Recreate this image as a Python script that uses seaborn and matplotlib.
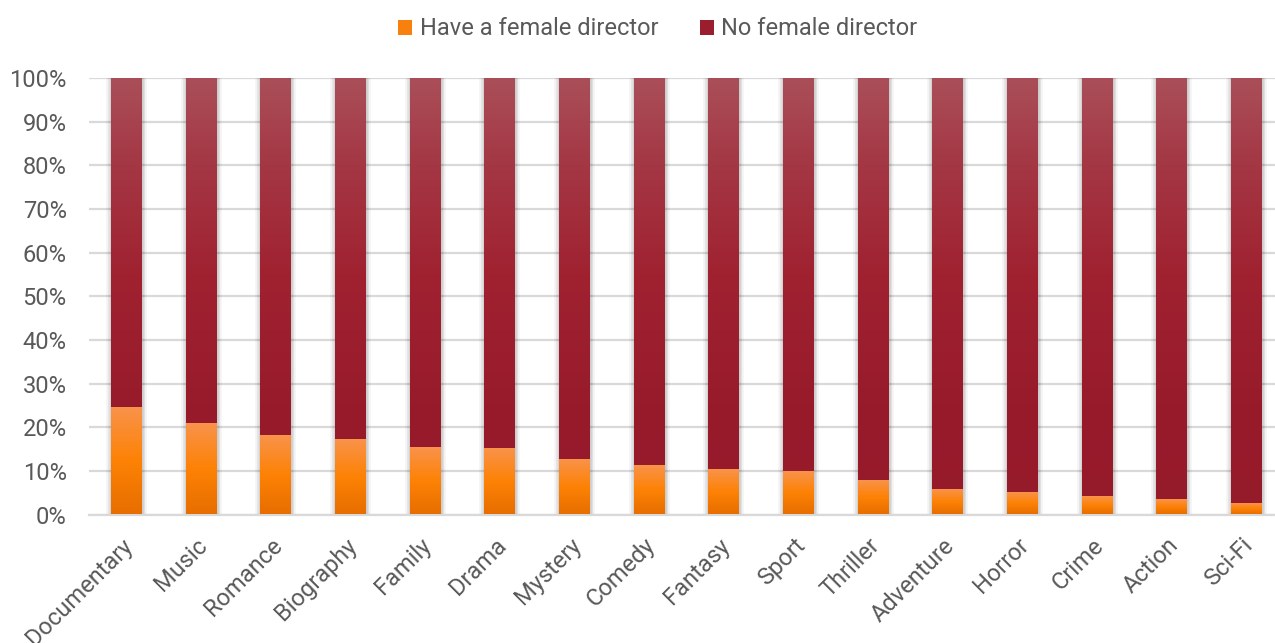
import numpy as np
import pandas as pd
import matplotlib
matplotlib.use("Agg")
import matplotlib.pyplot as plt
import matplotlib.patheffects as pe
import matplotlib.transforms as mtransforms
from matplotlib.colors import LinearSegmentedColormap
from matplotlib.patches import Patch
from matplotlib.ticker import PercentFormatter
import seaborn as sns

# ---- data ----
genres = ["Documentary", "Music", "Romance", "Biography", "Family", "Drama",
          "Mystery", "Comedy", "Fantasy", "Sport", "Thriller", "Adventure",
          "Horror", "Crime", "Action", "Sci-Fi"]
female_pct = [24.4, 20.7, 18.0, 17.1, 15.3, 15.1, 12.5, 11.1, 10.2, 9.7,
              7.7, 5.6, 4.9, 4.0, 3.3, 2.4]
no_female_pct = [100 - v for v in female_pct]
series_labels = ["Have a female director", "No female director"]
yticks = [0, 10, 20, 30, 40, 50, 60, 70, 80, 90, 100]

# ---- style ----
sns.set_style("white")
plt.rcParams["font.family"] = ["Roboto", "DejaVu Sans"]
TXT = "#595959"
GRID = "#d9d9d9"
ORANGE = "#f7800f"
RED = "#9b1e2e"
FS = 17

df = pd.DataFrame({"genre": genres,
                   "female": female_pct,
                   "total": [f + n for f, n in zip(female_pct, no_female_pct)]})

fig = plt.figure(figsize=(12.75, 6.43), dpi=100)
ax = fig.add_axes([89 / 1275, 1 - 514.5 / 643, 1 - 89 / 1275, (514.5 - 78) / 643])

BW = 0.415
sns.barplot(data=df, x="genre", y="total", color=RED, saturation=1,
            width=BW, errorbar=None, ax=ax, zorder=1)
n_red = len(ax.patches)
sns.barplot(data=df, x="genre", y="female", color=ORANGE, saturation=1,
            width=BW, errorbar=None, ax=ax, zorder=1)
red_patches = ax.patches[:n_red]
orange_patches = ax.patches[n_red:]

red_cmap = LinearSegmentedColormap.from_list(
    "r", [(0, "#951a2a"), (0.25, "#981b2c"), (0.55, "#a02231"),
          (0.8, "#a43744"), (1, "#aa4f59")])
or_cmap = LinearSegmentedColormap.from_list(
    "o", [(0, "#e76e00"), (0.5, "#fd8205"), (1, "#f9934b")])
grad = np.linspace(0, 1, 256).reshape(-1, 1)

glow = [pe.Stroke(linewidth=7, foreground="#000000", alpha=0.04),
        pe.Stroke(linewidth=4.5, foreground="#000000", alpha=0.06),
        pe.Stroke(linewidth=2.5, foreground="#000000", alpha=0.08),
        pe.Normal()]

for p in red_patches:
    p.set_path_effects(glow)
    p.set_linewidth(0)
    x0, w = p.get_x(), p.get_width()
    y0, h = p.get_y(), p.get_height()
    ax.imshow(grad, extent=[x0, x0 + w, y0, y0 + h], origin="lower",
              cmap=red_cmap, aspect="auto", zorder=2, interpolation="bilinear")
for p in orange_patches:
    p.set_linewidth(0)
    x0, w = p.get_x(), p.get_width()
    y0, h = p.get_y(), p.get_height()
    ax.imshow(grad, extent=[x0, x0 + w, y0, y0 + h], origin="lower",
              cmap=or_cmap, aspect="auto", zorder=3, interpolation="bilinear")

# ---- axes ----
slot = 74.7
ax.set_xlim(-0.5, (1275 - 126) / slot)
ax.set_ylim(0, 100)
ax.set_yticks(yticks)
ax.yaxis.set_major_formatter(PercentFormatter(decimals=0))
ax.set_axisbelow(True)
ax.grid(axis="y", color=GRID, linewidth=1.6)
ax.grid(axis="x", visible=False)
for s in ["top", "right", "left"]:
    ax.spines[s].set_visible(False)
ax.spines["bottom"].set_color(GRID)
ax.spines["bottom"].set_linewidth(1.6)
ax.set_xlabel("")
ax.set_ylabel("")
ax.tick_params(axis="y", length=0, pad=16, labelsize=FS, labelcolor=TXT)
ax.tick_params(axis="x", length=0, pad=14, labelsize=FS, labelcolor=TXT)
shift = mtransforms.ScaledTranslation(-5 / 100, 0, fig.dpi_scale_trans)
for lbl in ax.get_xticklabels():
    lbl.set_rotation(45)
    lbl.set_ha("right")
    lbl.set_va("top")
    lbl.set_rotation_mode("anchor")
    lbl.set_transform(lbl.get_transform() + shift)

handles = [Patch(facecolor=ORANGE, edgecolor="none", label=series_labels[0]),
           Patch(facecolor=RED, edgecolor="none", label=series_labels[1])]
fig.legend(handles=handles, loc="center", bbox_to_anchor=(0.516, 0.955),
           ncol=2, frameon=False, fontsize=FS, labelcolor=TXT,
           handlelength=0.6, handleheight=0.6, handletextpad=0.3,
           columnspacing=1.78)

fig.savefig("out.png", dpi=100)
